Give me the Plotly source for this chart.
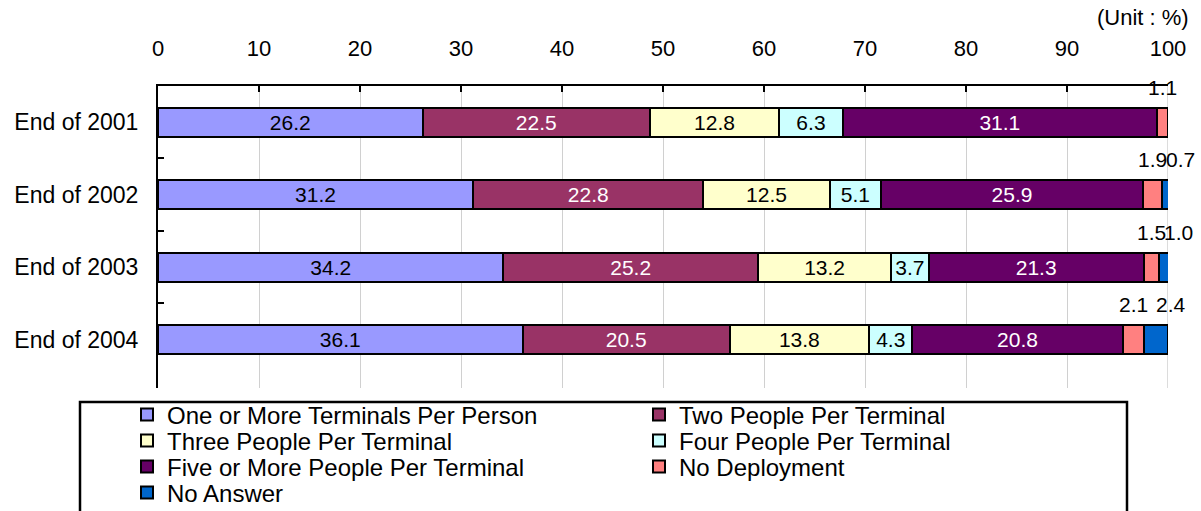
import plotly.graph_objects as go

categories = ["End of 2001", "End of 2002", "End of 2003", "End of 2004"]
series_names = [
    "One or More Terminals Per Person",
    "Two People Per Terminal",
    "Three People Per Terminal",
    "Four People Per Terminal",
    "Five or More People Per Terminal",
    "No Deployment",
    "No Answer",
]
one_or_more = [26.2, 31.2, 34.2, 36.1]
two_people = [22.5, 22.8, 25.2, 20.5]
three_people = [12.8, 12.5, 13.2, 13.8]
four_people = [6.3, 5.1, 3.7, 4.3]
five_or_more = [31.1, 25.9, 21.3, 20.8]
no_deployment = [1.1, 1.9, 1.5, 2.1]
no_answer = [None, 0.7, 1.0, 2.4]

series_values = [one_or_more, two_people, three_people, four_people,
                 five_or_more, no_deployment, no_answer]
colors = ["#9999FF", "#993366", "#FFFFCC", "#CCFFFF", "#660066", "#FF8080", "#0066CC"]
text_colors = ["black", "white", "black", "black", "white", "black", "black"]
inside_labels = [True, True, True, True, True, False, False]
legend_rows = ["legend", "legend", "legend2", "legend2", "legend3", "legend3", "legend4"]

FONT = "Liberation Sans, Arial, sans-serif"

# pixel geometry helpers
L, R, T, B = 158, 1168, 86, 388
def px_x(px):
    return (px - L) / (R - L)
def px_y(py):
    return (B - py) / (B - T)

fig = go.Figure()
for name, vals, col, tcol, inside, lg in zip(series_names, series_values, colors,
                                              text_colors, inside_labels, legend_rows):
    fig.add_trace(go.Bar(
        y=categories, x=vals, name=name, orientation="h", legend=lg,
        marker=dict(color=col, line=dict(color="black", width=2)),
        text=[("%.1f" % v) if v is not None else "" for v in vals] if inside else None,
        textposition="inside" if inside else "none",
        insidetextanchor="middle",
        textangle=0,
        constraintext="none",
        insidetextfont=dict(color=tcol, size=21, family=FONT),
        hoverinfo="skip",
    ))

# outside labels for the small end segments
annotations = []
for i, cat in enumerate(categories):
    base = sum(s[i] for s in series_values[:5])
    nd = no_deployment[i]
    annotations.append(dict(x=base + nd / 2, y=cat, xref="x", yref="y",
                            text="%.1f" % nd, showarrow=False, yshift=35,
                            font=dict(size=21, family=FONT, color="black")))
    na = no_answer[i]
    if na is not None:
        annotations.append(dict(x=base + nd + na / 2, y=cat, xref="x", yref="y",
                                text="%.1f" % na, showarrow=False, yshift=35, xshift=15,
                                font=dict(size=21, family=FONT, color="black")))

annotations.append(dict(x=px_x(1191), y=px_y(18), xref="paper", yref="paper",
                        text="(Unit : %)", showarrow=False, xanchor="right", yanchor="middle",
                        font=dict(size=22, family=FONT, color="black")))

legend_common = dict(orientation="h", xanchor="left", yanchor="middle",
                     entrywidth=467, entrywidthmode="pixels",
                     font=dict(size=24, family=FONT, color="black"),
                     traceorder="normal", itemwidth=30, bgcolor="rgba(0,0,0,0)",
                     borderwidth=0)
row_y = [415, 441, 467, 493]
legx = px_x(127)

fig.update_layout(
    width=1201, height=511,
    barmode="stack", bargap=0.6,
    plot_bgcolor="white", paper_bgcolor="white",
    margin=dict(l=L, r=1201 - R, t=T, b=511 - B, autoexpand=False),
    font=dict(family=FONT, size=22, color="black"),
    annotations=annotations,
    showlegend=True,
    legend=dict(legend_common, x=legx, y=px_y(row_y[0])),
    legend2=dict(legend_common, x=legx, y=px_y(row_y[1])),
    legend3=dict(legend_common, x=legx, y=px_y(row_y[2])),
    legend4=dict(legend_common, x=legx, y=px_y(row_y[3])),
    shapes=[
        dict(type="rect", xref="paper", yref="paper",
             x0=px_x(80), x1=px_x(1127), y0=px_y(530), y1=px_y(402),
             line=dict(color="black", width=2.5), fillcolor="rgba(0,0,0,0)",
             layer="below"),
        dict(type="line", xref="x", yref="paper", x0=100, x1=100, y0=0, y1=1,
             line=dict(color="#D0D0D0", width=1.5), layer="below"),
    ],
)
fig.update_xaxes(side="top", range=[0, 100], dtick=10, showgrid=True, gridcolor="#D0D0D0",
                 gridwidth=1, showline=True, linecolor="black", linewidth=2,
                 ticks="inside", tickcolor="black", ticklen=6, tickwidth=2,
                 ticklabelstandoff=19, zeroline=False, automargin=False,
                 tickfont=dict(size=22, family=FONT))
fig.update_yaxes(autorange="reversed", showline=True, linecolor="black", linewidth=2,
                 ticks="inside", tickson="boundaries", ticklen=6, tickwidth=2, tickcolor="black",
                 ticklabelstandoff=13, showgrid=False, automargin=False,
                 tickfont=dict(size=23, family=FONT))

fig.write_html("out.html", config={"displayModeBar": False},
               post_script="document.body.style.margin='0';document.body.style.overflow='hidden';")
